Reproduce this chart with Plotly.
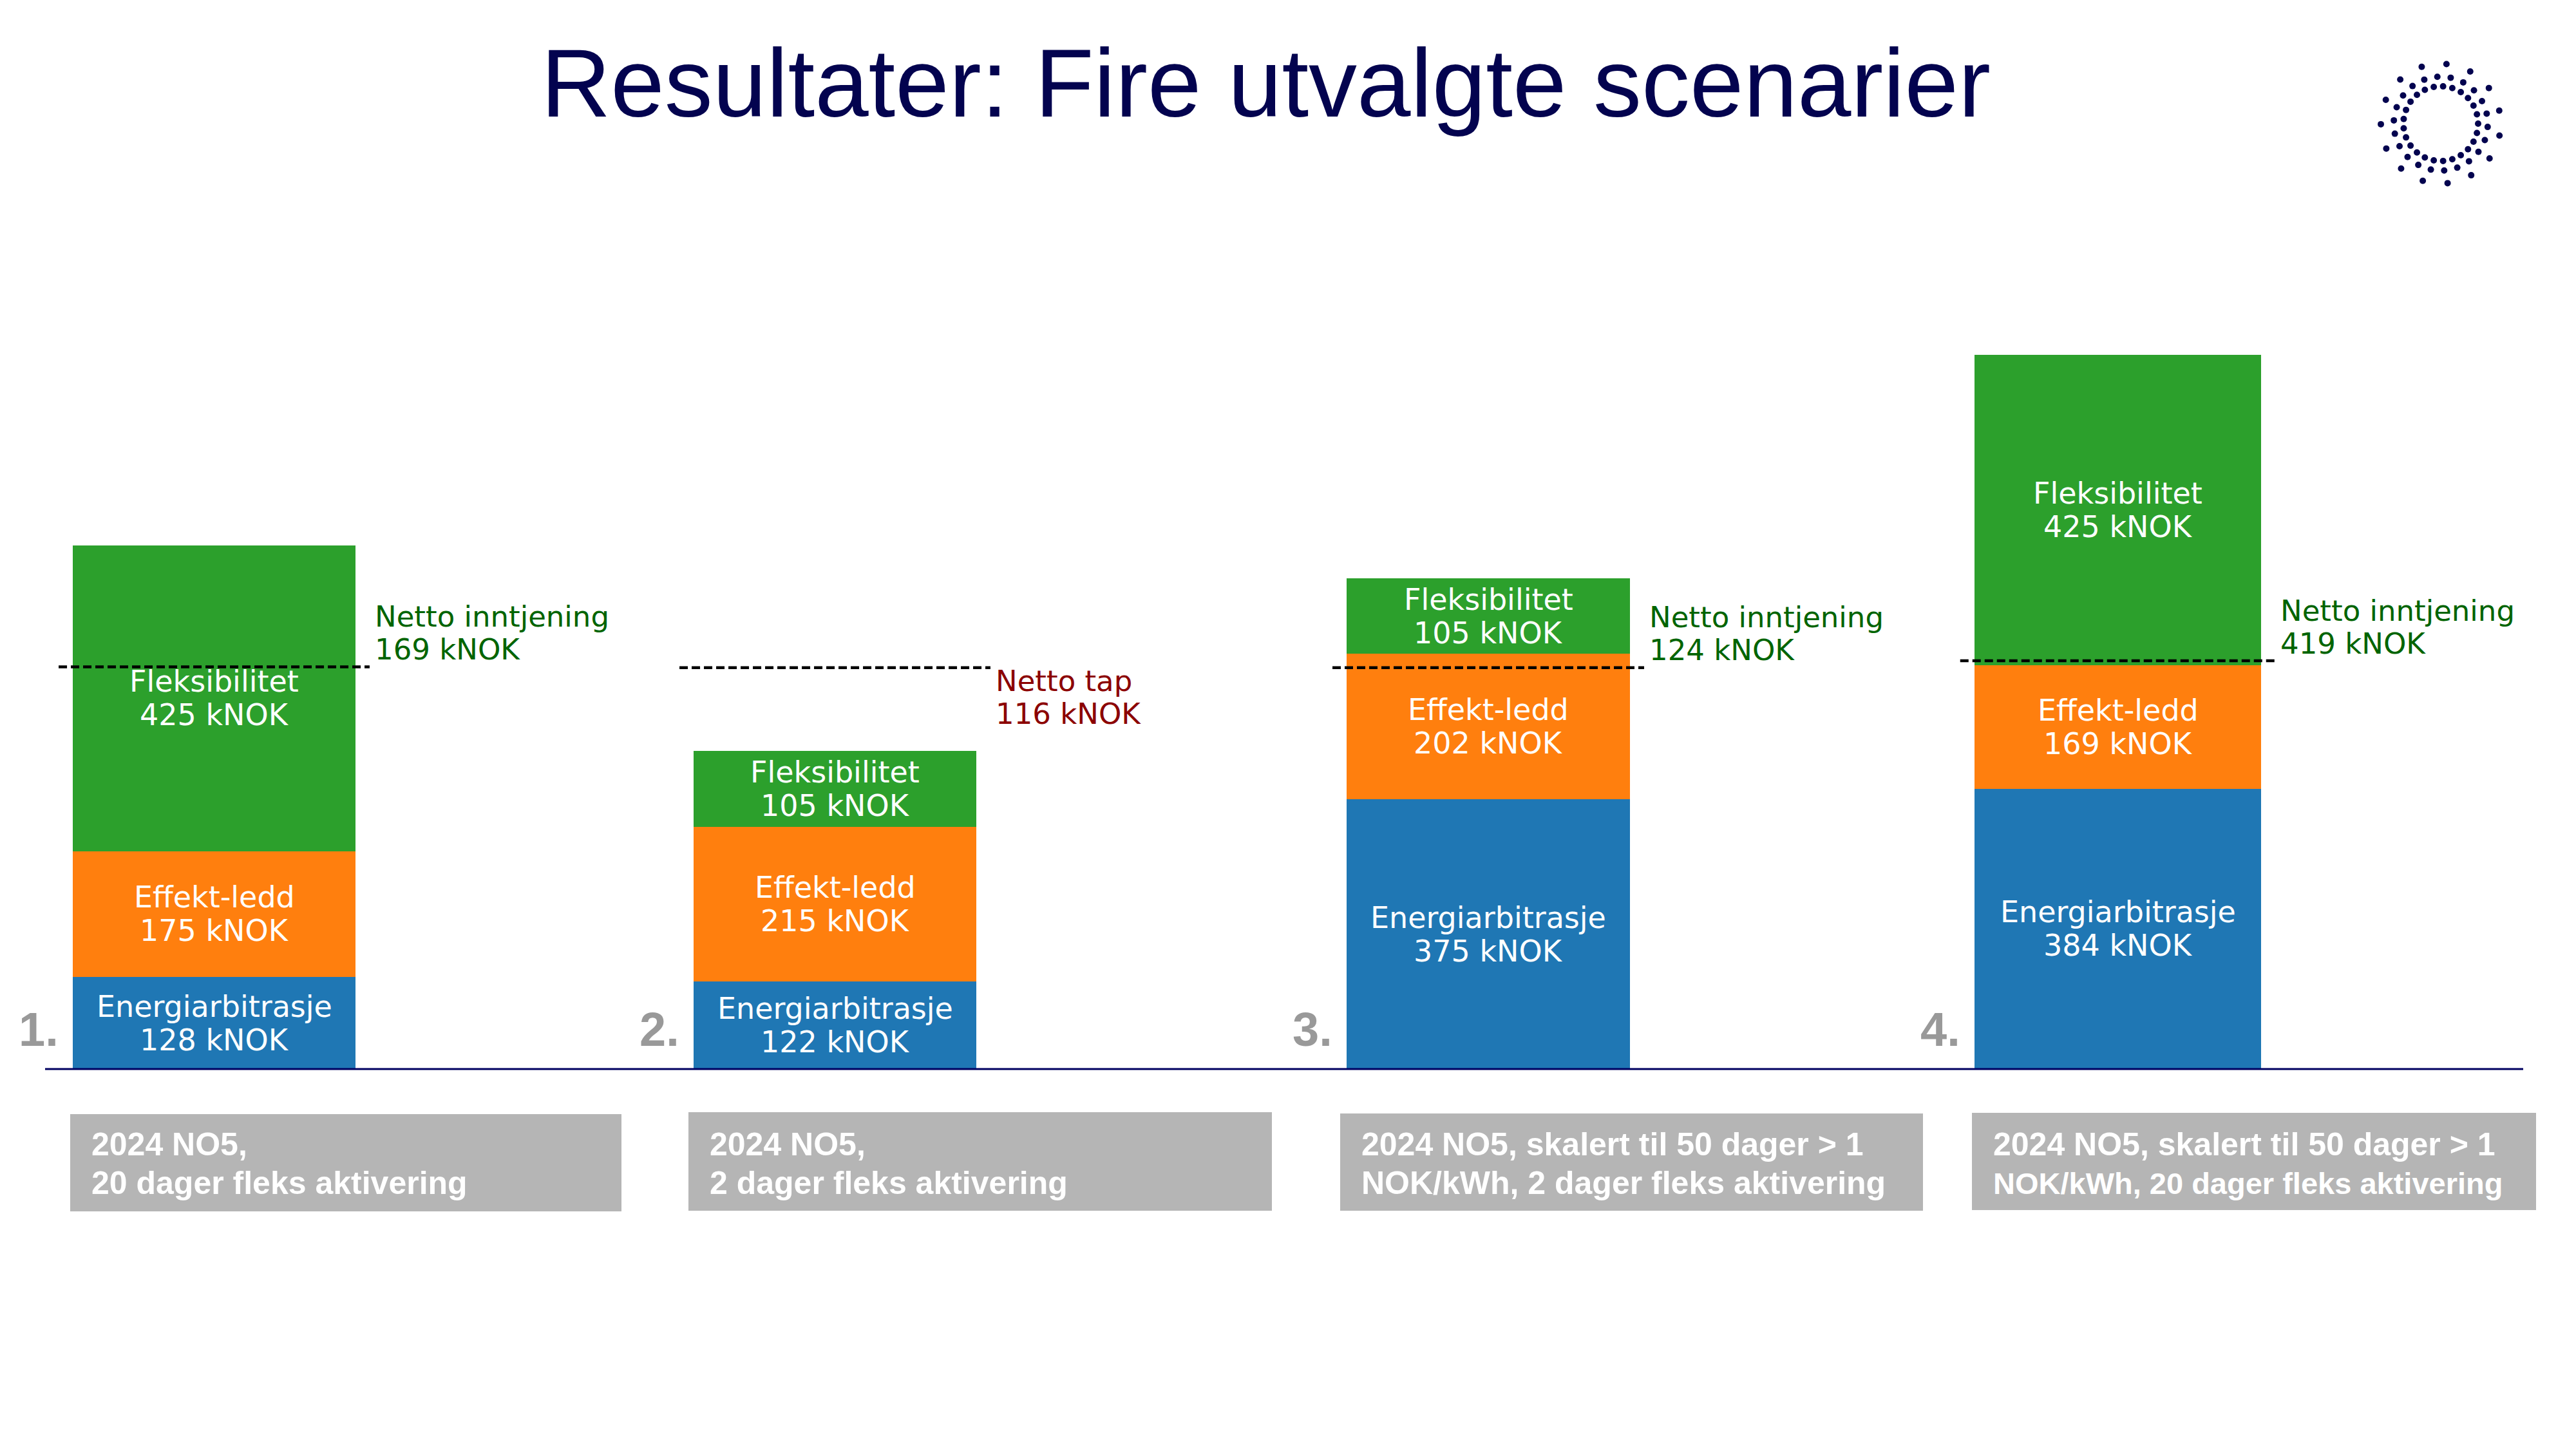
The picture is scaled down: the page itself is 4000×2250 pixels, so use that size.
import math
import plotly.graph_objects as go

# ---------------- data ----------------
scenario_numbers = ["1.", "2.", "3.", "4."]
energiarbitrasje = [128, 122, 375, 384]
effekt_ledd = [175, 215, 202, 169]
fleksibilitet = [425, 105, 105, 425]
netto = [169, -116, 124, 419]
desc_line1 = ["2024 NO5,", "2024 NO5,",
              "2024 NO5, skalert til 50 dager > 1",
              "2024 NO5, skalert til 50 dager > 1"]
desc_line2 = ["20 dager fleks aktivering", "2 dager fleks aktivering",
              "NOK/kWh, 2 dager fleks aktivering",
              "NOK/kWh, 20 dager fleks aktivering"]
segment_names = ["Energiarbitrasje", "Effekt-ledd", "Fleksibilitet"]
segment_values = [energiarbitrasje, effekt_ledd, fleksibilitet]
title_text = "Resultater: Fire utvalgte scenarier"

# ---------------- style / layout ----------------
segment_colors = ["#1f77b4", "#ff7f0e", "#2ca02c"]
W, H = 4000, 2250
NAVY = "#03034f"


def px(x):
    return x / W


def py(y):
    return 1 - y / H


BASE_Y = 1660
bar_px = [(113, 552), (1077, 1516), (2091, 2531), (3066, 3511)]
dom_px = [(0, 1000), (1000, 2000), (2000, 3000), (3000, 4000)]
px_per_k = [1.117, 1.117, 1.117, 1.134]
box_px = [(109, 1730, 965, 1881), (1069, 1727, 1975, 1880),
          (2081, 1729, 2986, 1880), (3062, 1728, 3938, 1879)]
box_line2_size = [50, 50, 50, 47]

LABEL_FONT = "DejaVu Sans, Verdana, sans-serif"
ARIAL = "Liberation Sans, Arial, sans-serif"

fig = go.Figure()
annotations = []
shapes = []
layout_axes = {}

for i in range(4):
    s = "" if i == 0 else str(i + 1)
    xa, ya = "x" + s, "y" + s
    bl, br = bar_px[i]
    unit = br - bl
    c = (bl + br) / 2
    L, R = dom_px[i]
    layout_axes["xaxis" + s] = dict(domain=[px(L), px(R)],
                                    range=[(L - c) / unit, (R - c) / unit],
                                    visible=False, fixedrange=True)
    layout_axes["yaxis" + s] = dict(domain=[py(BASE_Y), 1],
                                    range=[0, BASE_Y / px_per_k[i]],
                                    visible=False, fixedrange=True)

    bottom = 0
    for k in range(3):
        v = segment_values[k][i]
        fig.add_trace(go.Bar(x=[0], y=[v], width=[1], xaxis=xa, yaxis=ya,
                             marker=dict(color=segment_colors[k], line=dict(width=0)),
                             name=segment_names[k], showlegend=False,
                             hoverinfo="skip"))
        mid = bottom + v / 2
        annotations.append(dict(x=0, y=mid, xref=xa, yref=ya, text=segment_names[k],
                                showarrow=False, yshift=26, yanchor="middle",
                                font=dict(family=LABEL_FONT, size=46, color="white")))
        annotations.append(dict(x=0, y=mid, xref=xa, yref=ya, text=f"{v} kNOK",
                                showarrow=False, yshift=-26, yanchor="middle",
                                font=dict(family=LABEL_FONT, size=46, color="white")))
        bottom += v

    total = bottom
    cost = total - netto[i]
    shapes.append(dict(type="line", xref=xa, yref=ya, x0=-0.55, x1=0.55,
                       y0=cost, y1=cost, layer="above",
                       line=dict(color="black", width=4.5, dash="13px,6px")))
    if netto[i] >= 0:
        l1, l2, col, sh = "Netto inntjening", f"{netto[i]} kNOK", "#006400", (78, 27)
    else:
        l1, l2, col, sh = "Netto tap", f"{-netto[i]} kNOK", "#8b0000", (-21, -72)
    for txt, ys in ((l1, sh[0]), (l2, sh[1])):
        annotations.append(dict(x=0.5, y=cost, xref=xa, yref=ya, text=txt,
                                showarrow=False, xanchor="left", xshift=28,
                                yanchor="middle", yshift=ys,
                                font=dict(family=LABEL_FONT, size=45, color=col)))

    # scenario number
    annotations.append(dict(x=-0.5, y=0, xref=xa, yref=ya, text=scenario_numbers[i],
                            showarrow=False, xanchor="right", xshift=-20,
                            yanchor="middle", yshift=62,
                            font=dict(family=ARIAL, size=74, color="#999999",
                                      weight="bold")))

    # description box
    x0, y0, x1, y1 = box_px[i]
    shapes.append(dict(type="rect", xref="paper", yref="paper",
                       x0=px(x0), x1=px(x1), y0=py(y1), y1=py(y0),
                       fillcolor="#b5b5b5", line=dict(width=0), layer="below"))
    annotations.append(dict(x=px(x0 + 31), y=py(1777), xref="paper", yref="paper",
                            text=desc_line1[i], showarrow=False, xanchor="left",
                            yanchor="middle",
                            font=dict(family=ARIAL, size=50, color="white",
                                      weight="bold")))
    annotations.append(dict(x=px(x0 + 31), y=py(1837), xref="paper", yref="paper",
                            text=desc_line2[i], showarrow=False, xanchor="left",
                            yanchor="middle",
                            font=dict(family=ARIAL, size=box_line2_size[i],
                                      color="white", weight="bold")))

# baseline
shapes.append(dict(type="line", xref="paper", yref="paper", x0=px(70), x1=px(3918),
                   y0=py(BASE_Y), y1=py(BASE_Y), layer="above",
                   line=dict(color="#000060", width=3)))

# title
annotations.append(dict(x=px(1965), y=py(129), xref="paper", yref="paper",
                        text=title_text, showarrow=False, xanchor="center",
                        yanchor="middle",
                        font=dict(family=ARIAL, size=150, color=NAVY)))

# decorative logo (rings of dots)
cx, cy = 3790, 192
rings = [(58, 25, 0.0), (73, 22, 0.07), (93, 15, 0.2)]
for r, n, off in rings:
    for j in range(n):
        a = 2 * math.pi * j / n + off
        dx, dy = r * math.cos(a), r * math.sin(a)
        shapes.append(dict(type="circle", xref="paper", yref="paper",
                           x0=px(cx + dx - 5), x1=px(cx + dx + 5),
                           y0=py(cy + dy + 5), y1=py(cy + dy - 5),
                           fillcolor=NAVY, line=dict(width=0)))

fig.update_layout(width=W, height=H, margin=dict(l=0, r=0, t=0, b=0),
                  paper_bgcolor="white", plot_bgcolor="rgba(0,0,0,0)",
                  barmode="stack", showlegend=False,
                  annotations=annotations, shapes=shapes, **layout_axes)

fig.write_html("out.html", config={"displayModeBar": False},
               post_script="document.body.style.margin='0px';"
                           "document.body.style.overflow='hidden';")
